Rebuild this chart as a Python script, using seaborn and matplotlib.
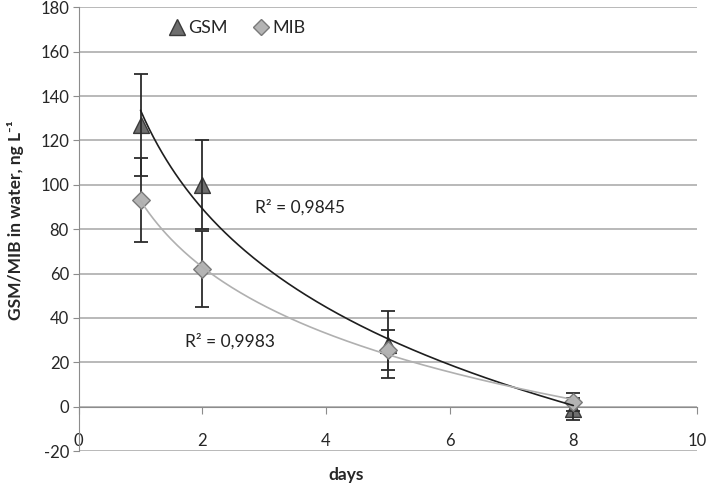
import numpy as np
import pandas as pd
import seaborn as sns
import matplotlib.pyplot as plt
from matplotlib.lines import Line2D

# values
days = [1, 2, 5, 8]
gsm = [127, 100, 28, -1]
gsm_err = [23, 20, 15, 5]
mib = [93, 62, 25.5, 2]
mib_err = [19, 17, 9, 4]
r2_gsm = "R² = 0,9845"
r2_mib = "R² = 0,9983"

sns.set_style("white")
plt.rcParams['font.family'] = ['Lato', 'DejaVu Sans']
plt.rcParams['axes.unicode_minus'] = False

fig = plt.figure(figsize=(7.09, 4.83), dpi=100)
ax = fig.add_axes([0.111, 0.066, 0.872, 0.919])

df = pd.DataFrame({'days': days, 'GSM': gsm, 'MIB': mib})

# logarithmic trend lines, like the spreadsheet ones
xs = np.linspace(1, 8, 200)
b_g, a_g = np.polyfit(np.log(days), gsm, 1)
b_m, a_m = np.polyfit(np.log(days), mib, 1)
trend = pd.DataFrame({'x': xs, 'GSM': a_g + b_g * np.log(xs), 'MIB': a_m + b_m * np.log(xs)})

sns.scatterplot(data=df, x='days', y='GSM', marker='^', s=130, color='#6e6e6e',
                edgecolor='#3a3a3a', linewidth=1, zorder=3, ax=ax)
ax.errorbar(days, gsm, yerr=gsm_err, fmt='none', ecolor='#2b2b2b', elinewidth=1.3,
            capsize=5, capthick=1.3, zorder=4)
ax.errorbar(days, mib, yerr=mib_err, fmt='none', ecolor='#2b2b2b', elinewidth=1.3,
            capsize=5, capthick=1.3, zorder=4)
sns.scatterplot(data=df, x='days', y='MIB', marker='D', s=80, color='#b4b4b4',
                edgecolor='#7a7a7a', linewidth=1, zorder=5, ax=ax)
sns.lineplot(data=trend, x='x', y='GSM', color='#1e1e1e', linewidth=1.2, zorder=6, ax=ax)
sns.lineplot(data=trend, x='x', y='MIB', color='#b0b0b0', linewidth=1.2, zorder=6, ax=ax)

ax.text(2.85, 90, r2_gsm, fontsize=12.5, va='center', color='#222222')
ax.text(1.72, 29.5, r2_mib, fontsize=12.5, va='center', color='#222222')

ax.set_xlim(0, 10)
ax.set_ylim(-20, 180)
ax.set_xticks(range(0, 11, 2))
ax.set_yticks(range(-20, 181, 20))
ax.yaxis.grid(True, color='#a6a6a6', linewidth=1.1)
ax.set_axisbelow(True)

for s in ['top', 'right']:
    ax.spines[s].set_visible(False)
ax.spines['bottom'].set_position(('data', 0))
ax.spines['bottom'].set_color('#8c8c8c')
ax.spines['left'].set_color('#8c8c8c')
ax.tick_params(axis='x', direction='out', length=5, color='#8c8c8c', pad=14,
               labelsize=12, labelcolor='#262626')
ax.tick_params(axis='y', direction='out', length=4, color='#8c8c8c', pad=3,
               labelsize=12, labelcolor='#262626')
ax.tick_params(bottom=True, left=True)

ax.set_xlabel('days', fontsize=12.5, fontweight='bold')
ax.set_ylabel('GSM/MIB in water, ng L⁻¹', fontsize=12.5, fontweight='bold')
ax.xaxis.set_label_coords(0.432, -0.035)
ax.yaxis.set_label_coords(-0.088, 0.52)

handles = [Line2D([], [], marker='^', linestyle='none', markersize=11,
                  markerfacecolor='#6e6e6e', markeredgecolor='#3a3a3a'),
           Line2D([], [], marker='D', linestyle='none', markersize=8.5,
                  markerfacecolor='#b4b4b4', markeredgecolor='#7a7a7a')]
ax.legend(handles, ['GSM', 'MIB'], loc='center left', bbox_to_anchor=(0.115, 0.953),
          ncol=2, frameon=False, fontsize=13, handletextpad=0.05, columnspacing=1.2,
          handlelength=1.2)

fig.savefig('out.png', dpi=100)
